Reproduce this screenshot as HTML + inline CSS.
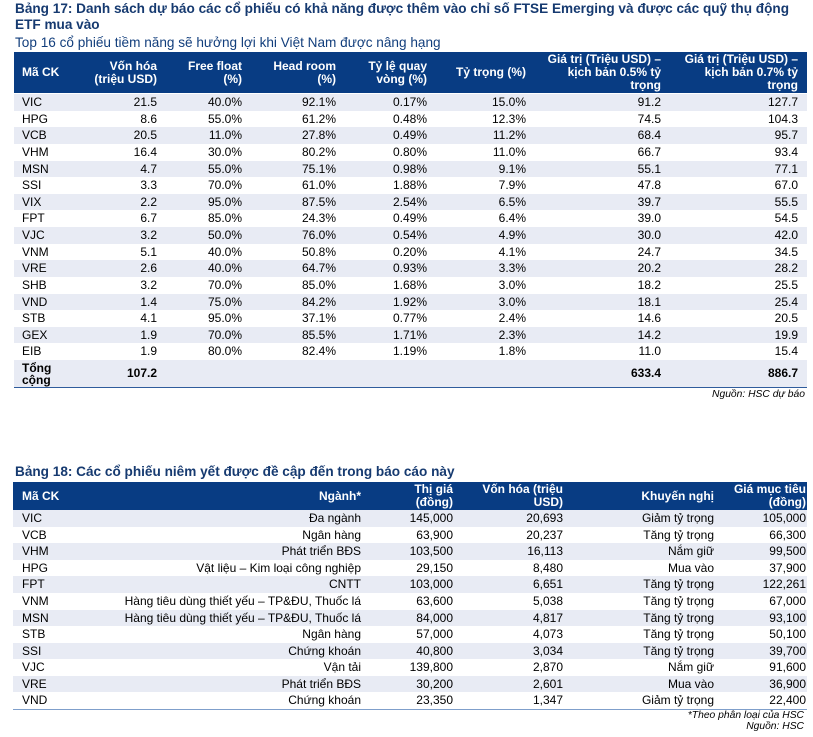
<!DOCTYPE html>
<html><head><meta charset="utf-8">
<style>
*{margin:0;padding:0;box-sizing:border-box}
html,body{width:813px;height:737px;background:#fff;overflow:hidden}
body{position:relative;font-family:"Liberation Sans",Arial,sans-serif;color:#000;font-size:12px}
.t{position:absolute;left:15px;font-weight:bold;font-size:13.6px;line-height:15.5px;color:#163a70;white-space:nowrap}
.sub{position:absolute;left:15px;top:34.5px;font-size:13.6px;line-height:15px;color:#123e7c;white-space:nowrap}
.hd{position:absolute;background:#083c83;color:#fff;font-weight:bold;font-size:12px}
.hc{position:absolute;top:0;height:100%;display:flex;align-items:center;text-align:right;line-height:12.8px;white-space:nowrap}
.hl{text-align:left}
.r{position:absolute;height:16.625px;line-height:16.6px}
.r span{position:absolute;top:0;white-space:nowrap}
.s{background:#e8ebf4}
.a{left:14px;width:793px}
.b{left:13px;width:794px;height:16.583px}
.c0{left:8px}
.b .c0{left:9px}
.a .c1{right:650px}.a .c2{right:565px}.a .c3{right:471px}.a .c4{right:380px}.a .c5{right:281px}.a .c6{right:146px}.a .c7{right:9px}
.b .c1{right:446px}.b .c2{right:354px}.b .c3{right:244px}.b .c4{right:93px}.b .c5{right:1px}
.note{position:absolute;font-style:italic;font-size:10.3px;line-height:12px;white-space:nowrap;text-align:right}
</style></head><body>

<div class="t" style="top:1px">Bảng 17: Danh sách dự báo các cổ phiếu có khả năng được thêm vào chỉ số FTSE Emerging và được các quỹ thụ động<br>ETF mua vào</div>
<div class="sub">Top 16 cổ phiếu tiềm năng sẽ hưởng lợi khi Việt Nam được nâng hạng</div>

<div class="hd" style="left:14px;top:52px;width:793px;height:41px">
<div class="hc hl" style="left:8px">Mã CK</div>
<div class="hc" style="right:650px">Vốn hóa<br>(triệu USD)</div>
<div class="hc" style="right:565px">Free float<br>(%)</div>
<div class="hc" style="right:471px">Head room<br>(%)</div>
<div class="hc" style="right:380px">Tỷ lệ quay<br>vòng (%)</div>
<div class="hc" style="right:281px">Tỷ trọng (%)</div>
<div class="hc" style="right:146px">Giá trị (Triệu USD) –<br>kịch bản 0.5% tỷ<br>trọng</div>
<div class="hc" style="right:9px">Giá trị (Triệu USD) –<br>kịch bản 0.7% tỷ<br>trọng</div>
</div>

<div class="r a s" style="top:94px"><span class="c0">VIC</span><span class="c1">21.5</span><span class="c2">40.0%</span><span class="c3">92.1%</span><span class="c4">0.17%</span><span class="c5">15.0%</span><span class="c6">91.2</span><span class="c7">127.7</span></div>
<div class="r a" style="top:110.625px"><span class="c0">HPG</span><span class="c1">8.6</span><span class="c2">55.0%</span><span class="c3">61.2%</span><span class="c4">0.48%</span><span class="c5">12.3%</span><span class="c6">74.5</span><span class="c7">104.3</span></div>
<div class="r a s" style="top:127.25px"><span class="c0">VCB</span><span class="c1">20.5</span><span class="c2">11.0%</span><span class="c3">27.8%</span><span class="c4">0.49%</span><span class="c5">11.2%</span><span class="c6">68.4</span><span class="c7">95.7</span></div>
<div class="r a" style="top:143.875px"><span class="c0">VHM</span><span class="c1">16.4</span><span class="c2">30.0%</span><span class="c3">80.2%</span><span class="c4">0.80%</span><span class="c5">11.0%</span><span class="c6">66.7</span><span class="c7">93.4</span></div>
<div class="r a s" style="top:160.5px"><span class="c0">MSN</span><span class="c1">4.7</span><span class="c2">55.0%</span><span class="c3">75.1%</span><span class="c4">0.98%</span><span class="c5">9.1%</span><span class="c6">55.1</span><span class="c7">77.1</span></div>
<div class="r a" style="top:177.125px"><span class="c0">SSI</span><span class="c1">3.3</span><span class="c2">70.0%</span><span class="c3">61.0%</span><span class="c4">1.88%</span><span class="c5">7.9%</span><span class="c6">47.8</span><span class="c7">67.0</span></div>
<div class="r a s" style="top:193.75px"><span class="c0">VIX</span><span class="c1">2.2</span><span class="c2">95.0%</span><span class="c3">87.5%</span><span class="c4">2.54%</span><span class="c5">6.5%</span><span class="c6">39.7</span><span class="c7">55.5</span></div>
<div class="r a" style="top:210.375px"><span class="c0">FPT</span><span class="c1">6.7</span><span class="c2">85.0%</span><span class="c3">24.3%</span><span class="c4">0.49%</span><span class="c5">6.4%</span><span class="c6">39.0</span><span class="c7">54.5</span></div>
<div class="r a s" style="top:227px"><span class="c0">VJC</span><span class="c1">3.2</span><span class="c2">50.0%</span><span class="c3">76.0%</span><span class="c4">0.54%</span><span class="c5">4.9%</span><span class="c6">30.0</span><span class="c7">42.0</span></div>
<div class="r a" style="top:243.625px"><span class="c0">VNM</span><span class="c1">5.1</span><span class="c2">40.0%</span><span class="c3">50.8%</span><span class="c4">0.20%</span><span class="c5">4.1%</span><span class="c6">24.7</span><span class="c7">34.5</span></div>
<div class="r a s" style="top:260.25px"><span class="c0">VRE</span><span class="c1">2.6</span><span class="c2">40.0%</span><span class="c3">64.7%</span><span class="c4">0.93%</span><span class="c5">3.3%</span><span class="c6">20.2</span><span class="c7">28.2</span></div>
<div class="r a" style="top:276.875px"><span class="c0">SHB</span><span class="c1">3.2</span><span class="c2">70.0%</span><span class="c3">85.0%</span><span class="c4">1.68%</span><span class="c5">3.0%</span><span class="c6">18.2</span><span class="c7">25.5</span></div>
<div class="r a s" style="top:293.5px"><span class="c0">VND</span><span class="c1">1.4</span><span class="c2">75.0%</span><span class="c3">84.2%</span><span class="c4">1.92%</span><span class="c5">3.0%</span><span class="c6">18.1</span><span class="c7">25.4</span></div>
<div class="r a" style="top:310.125px"><span class="c0">STB</span><span class="c1">4.1</span><span class="c2">95.0%</span><span class="c3">37.1%</span><span class="c4">0.77%</span><span class="c5">2.4%</span><span class="c6">14.6</span><span class="c7">20.5</span></div>
<div class="r a s" style="top:326.75px"><span class="c0">GEX</span><span class="c1">1.9</span><span class="c2">70.0%</span><span class="c3">85.5%</span><span class="c4">1.71%</span><span class="c5">2.3%</span><span class="c6">14.2</span><span class="c7">19.9</span></div>
<div class="r a" style="top:343.375px"><span class="c0">EIB</span><span class="c1">1.9</span><span class="c2">80.0%</span><span class="c3">82.4%</span><span class="c4">1.19%</span><span class="c5">1.8%</span><span class="c6">11.0</span><span class="c7">15.4</span></div>
<div class="r a s" style="top:360px;height:27px;font-weight:bold">
<span class="c0" style="top:1.5px;line-height:12.8px">Tổng<br>cộng</span>
<span class="c1" style="line-height:27px">107.2</span>
<span class="c6" style="line-height:27px">633.4</span>
<span class="c7" style="line-height:27px">886.7</span>
</div>
<div style="position:absolute;left:14px;top:387px;width:793px;height:1.3px;background:#2f5c9c"></div>
<div class="note" style="right:8px;top:389px">Nguồn: HSC dự báo</div>

<div class="t" style="top:464px">Bảng 18: Các cổ phiếu niêm yết được đề cập đến trong báo cáo này</div>

<div class="hd" style="left:13px;top:482px;width:794px;height:28px">
<div class="hc hl" style="left:9px">Mã CK</div>
<div class="hc" style="right:446px">Ngành*</div>
<div class="hc" style="right:354px">Thị giá<br>(đồng)</div>
<div class="hc" style="right:244px">Vốn hóa (triệu<br>USD)</div>
<div class="hc" style="right:93px">Khuyến nghị</div>
<div class="hc" style="right:1px">Giá mục tiêu<br>(đồng)</div>
</div>

<div class="r b s" style="top:510px"><span class="c0">VIC</span><span class="c1">Đa ngành</span><span class="c2">145,000</span><span class="c3">20,693</span><span class="c4">Giảm tỷ trọng</span><span class="c5">105,000</span></div>
<div class="r b" style="top:526.583px"><span class="c0">VCB</span><span class="c1">Ngân hàng</span><span class="c2">63,900</span><span class="c3">20,237</span><span class="c4">Tăng tỷ trọng</span><span class="c5">66,300</span></div>
<div class="r b s" style="top:543.167px"><span class="c0">VHM</span><span class="c1">Phát triển BĐS</span><span class="c2">103,500</span><span class="c3">16,113</span><span class="c4">Nắm giữ</span><span class="c5">99,500</span></div>
<div class="r b" style="top:559.75px"><span class="c0">HPG</span><span class="c1">Vật liệu – Kim loại công nghiệp</span><span class="c2">29,150</span><span class="c3">8,480</span><span class="c4">Mua vào</span><span class="c5">37,900</span></div>
<div class="r b s" style="top:576.333px"><span class="c0">FPT</span><span class="c1">CNTT</span><span class="c2">103,000</span><span class="c3">6,651</span><span class="c4">Tăng tỷ trọng</span><span class="c5">122,261</span></div>
<div class="r b" style="top:592.917px"><span class="c0">VNM</span><span class="c1">Hàng tiêu dùng thiết yếu – TP&amp;ĐU, Thuốc lá</span><span class="c2">63,600</span><span class="c3">5,038</span><span class="c4">Tăng tỷ trọng</span><span class="c5">67,000</span></div>
<div class="r b s" style="top:609.5px"><span class="c0">MSN</span><span class="c1">Hàng tiêu dùng thiết yếu – TP&amp;ĐU, Thuốc lá</span><span class="c2">84,000</span><span class="c3">4,817</span><span class="c4">Tăng tỷ trọng</span><span class="c5">93,100</span></div>
<div class="r b" style="top:626.083px"><span class="c0">STB</span><span class="c1">Ngân hàng</span><span class="c2">57,000</span><span class="c3">4,073</span><span class="c4">Tăng tỷ trọng</span><span class="c5">50,100</span></div>
<div class="r b s" style="top:642.667px"><span class="c0">SSI</span><span class="c1">Chứng khoán</span><span class="c2">40,800</span><span class="c3">3,034</span><span class="c4">Tăng tỷ trọng</span><span class="c5">39,700</span></div>
<div class="r b" style="top:659.25px"><span class="c0">VJC</span><span class="c1">Vận tải</span><span class="c2">139,800</span><span class="c3">2,870</span><span class="c4">Nắm giữ</span><span class="c5">91,600</span></div>
<div class="r b s" style="top:675.833px"><span class="c0">VRE</span><span class="c1">Phát triển BĐS</span><span class="c2">30,200</span><span class="c3">2,601</span><span class="c4">Mua vào</span><span class="c5">36,900</span></div>
<div class="r b" style="top:692.417px"><span class="c0">VND</span><span class="c1">Chứng khoán</span><span class="c2">23,350</span><span class="c3">1,347</span><span class="c4">Giảm tỷ trọng</span><span class="c5">22,400</span></div>
<div style="position:absolute;left:13px;top:709px;width:794px;height:1.2px;background:#7f9fcb"></div>
<div class="note" style="right:9px;top:709.5px">*Theo phân loại của HSC</div>
<div class="note" style="right:9px;top:721px">Nguồn: HSC</div>

</body></html>
